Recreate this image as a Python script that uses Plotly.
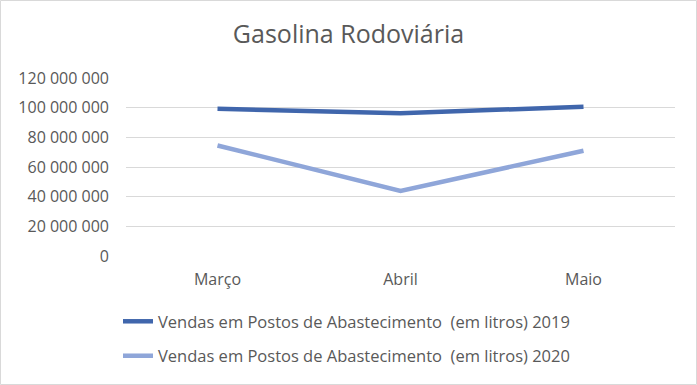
import plotly.graph_objects as go

categories = ["Março", "Abril", "Maio"]
vendas_2019 = [99200000, 96200000, 100700000]
vendas_2020 = [74500000, 43900000, 71000000]
series_names = [
    "Vendas em Postos de Abastecimento \u00a0(em litros) 2019",
    "Vendas em Postos de Abastecimento \u00a0(em litros) 2020",
]
y_ticks = [0, 20000000, 40000000, 60000000, 80000000, 100000000, 120000000]

FONT = "Open Sans"
GREY = "#595959"
L, R, T, B = 126, 22, 78, 129
PW = 697 - L - R
PH = 385 - T - B

fig = go.Figure()
fig.add_trace(go.Scatter(x=categories, y=vendas_2019, mode="lines", name=series_names[0],
                         line=dict(color="#4066AC", width=4.5), legendgroup="a"))
fig.add_trace(go.Scatter(x=categories, y=vendas_2020, mode="lines", name=series_names[1],
                         line=dict(color="#8FA6D9", width=4.5), legendgroup="b"))

fig.update_layout(
    width=697, height=385,
    margin=dict(l=L, r=R, t=T, b=B, autoexpand=False),
    paper_bgcolor="white", plot_bgcolor="white",
    separators=", ",
    font=dict(family=FONT, color=GREY, size=16),
    title=dict(text="Gasolina Rodoviária", x=0.5, xanchor="center", y=0.91, yanchor="middle",
               font=dict(family=FONT, size=25, color=GREY)),
    xaxis=dict(showgrid=False, showline=False, ticks="", zeroline=False,
               range=[-0.5, 2.5], ticklabelstandoff=12, tickfont=dict(size=16, color=GREY)),
    yaxis=dict(range=[0, 120000000], tickvals=y_ticks, tickformat=",d",
               showgrid=True, gridcolor="#D9D9D9", gridwidth=1.3,
               zeroline=False, showline=False, ticks="", ticklabelstandoff=16,
               tickfont=dict(size=16, color=GREY)),
    legend=dict(orientation="v", x=-0.0146, xanchor="left", y=-0.27, yanchor="top",
                traceorder="grouped", tracegroupgap=10, font=dict(size=16.5, color=GREY),
                bgcolor="rgba(0,0,0,0)"),
)
fig.add_shape(type="rect", xref="paper", yref="paper",
              x0=-(L - 0.5) / PW, x1=1 + (R - 0.5) / PW,
              y0=-(B - 0.5) / PH, y1=1 + (T - 0.5) / PH,
              line=dict(color="#D9D9D9", width=1), layer="below")

fig.write_html("out.html", config={"displayModeBar": False},
               post_script="document.body.style.margin='0';document.body.style.overflow='hidden';")
